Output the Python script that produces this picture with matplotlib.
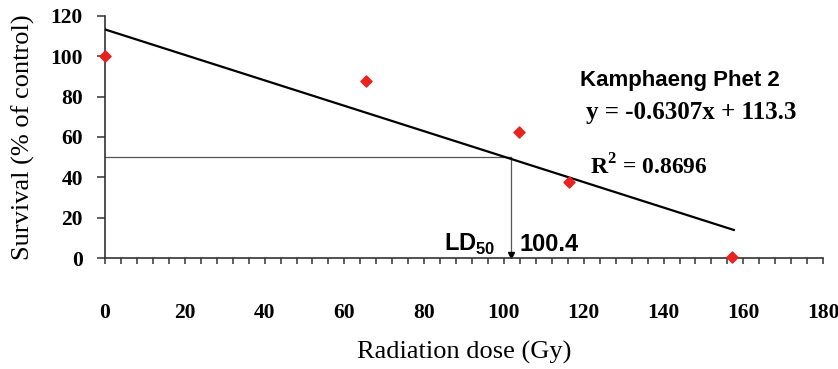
import matplotlib.pyplot as plt
import numpy as np
from matplotlib.ticker import MultipleLocator

# data
dose = [0, 65.5, 103.8, 116.3, 157.2]
survival = [100, 87.5, 62.5, 37.5, 0.5]

slope = -0.6307
intercept = 113.3
line_x = [0, 157.6]
ld50_x = 101.8  # where the guide lines meet in the picture

plt.rcParams['font.family'] = ['Liberation Serif', 'DejaVu Serif']
plt.rcParams['mathtext.fontset'] = 'custom'
plt.rcParams['mathtext.rm'] = 'Liberation Serif'
plt.rcParams['mathtext.bf'] = 'Liberation Serif:bold'

fig = plt.figure(figsize=(8.38, 3.69), dpi=100)
ax = fig.add_axes([0.1253, 0.3008, 0.857, 0.656])

# regression line
lx = np.array(line_x)
ax.plot(lx, slope * lx + intercept, color='black', lw=1.6, zorder=3)

# LD50 guide lines
ax.plot([0, ld50_x], [50, 50], color='#555555', lw=0.9)
ax.plot([ld50_x, ld50_x], [50, 1.5], color='#555555', lw=0.9)
ax.plot([ld50_x], [1.5], marker='v', color='black', ms=5, clip_on=False)

# data points
ax.scatter(dose, survival, marker='D', s=32, color='#e8231f', zorder=4, clip_on=False)

ax.set_xlim(0, 180)
ax.set_ylim(0, 120)
ax.xaxis.set_major_locator(MultipleLocator(20))
ax.xaxis.set_minor_locator(MultipleLocator(4))
ax.yaxis.set_major_locator(MultipleLocator(20))

for s in ['top', 'right']:
    ax.spines[s].set_visible(False)
ax.spines['left'].set_color('#333333')
ax.spines['bottom'].set_color('#333333')
ax.spines['left'].set_linewidth(1.2)
ax.spines['bottom'].set_linewidth(1.2)

ax.tick_params(axis='x', which='major', direction='out', length=4.5, width=1.1,
               pad=28, labelsize=15.5, colors='#333333', labelcolor='black')
ax.tick_params(axis='x', which='minor', direction='out', length=4.5, width=1.1,
               colors='#333333')
ax.tick_params(axis='y', direction='out', length=6, width=1.1, pad=10,
               labelsize=15.5, colors='#333333', labelcolor='black')
for lab in ax.get_xticklabels() + ax.get_yticklabels():
    lab.set_fontweight('bold')

ax.set_xlabel('Radiation dose (Gy)', fontsize=19, labelpad=13)
ax.set_ylabel('Survival (% of control)', fontsize=19, labelpad=11)

# annotations
sans = ['Liberation Sans', 'DejaVu Sans']
ax.text(119, 88, 'Kamphaeng Phet 2', family=sans,
        fontsize=16, fontweight='bold', ha='left', va='center')
ax.text(120.5, 72, 'y = -0.6307x + 113.3', fontsize=18, fontweight='bold',
        ha='left', va='center')
ax.text(121.5, 45, r'R$^{\mathbf{2}}$ = 0.8696', fontsize=17, fontweight='bold',
        ha='left', va='center')
ax.text(97.8, 6.5, r'LD$_{\mathregular{50}}$', family=sans,
        fontsize=17, fontweight='bold', ha='right', va='center')
ax.text(104, 6.5, '100.4', family=sans,
        fontsize=17, fontweight='bold', ha='left', va='center')

fig.savefig('out.png', dpi=100)
